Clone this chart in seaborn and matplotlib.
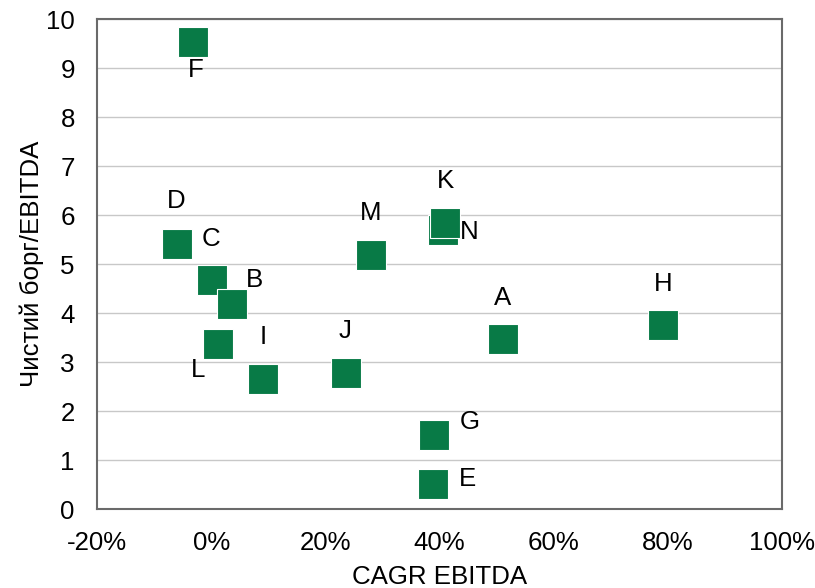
import matplotlib.pyplot as plt
import matplotlib.ticker as mtick
import seaborn as sns
import pandas as pd

# Values
names = ['F', 'D', 'C', 'B', 'L', 'I', 'J', 'M', 'N', 'K', 'A', 'H', 'G', 'E']
cagr = [-3.2, -6.0, 0.1, 3.7, 1.2, 9.1, 23.6, 28.0, 40.6, 41.0, 51.1, 79.2, 39.1, 38.8]
debt_ebitda = [9.54, 5.42, 4.67, 4.19, 3.38, 2.65, 2.78, 5.20, 5.71, 5.85, 3.47, 3.76, 1.51, 0.52]

# label offsets from marker centre, in pixels
label_dx = [3, -1, -1, 22, -20, 0, -1, 0, 26, 0, 0, 0, 35, 35]
label_dy = [-28, 43, 41, 24, -26, 42, 42, 42, -2, 42, 41, 41, 13, 5]

df = pd.DataFrame({'name': names, 'cagr': cagr, 'ratio': debt_ebitda})

green = '#087A46'
grey = '#6A6A6A'
fs = 18.6

sns.set_style('white')
plt.rcParams['font.family'] = ['Liberation Sans', 'DejaVu Sans']
plt.rcParams['text.color'] = 'black'
plt.rcParams['axes.labelcolor'] = 'black'

fig, ax = plt.subplots(figsize=(8.15, 5.88), dpi=100)
fig.subplots_adjust(left=0.119, right=0.9595, top=0.967, bottom=0.134)

sns.scatterplot(data=df, x='cagr', y='ratio', marker='s', s=470, color=green,
                edgecolor='white', linewidth=0.8, ax=ax, zorder=3, legend=False)

for n, x, y, dx, dy in zip(names, cagr, debt_ebitda, label_dx, label_dy):
  ax.annotate(n, (x, y), xytext=(dx, dy), textcoords='offset pixels',
              ha='center', va='center', fontsize=fs, color='black')

ax.set_xlim(-20, 100)
ax.set_ylim(0, 10)
ax.set_xticks(range(-20, 101, 20))
ax.set_yticks(range(0, 11))
ax.xaxis.set_major_formatter(mtick.FuncFormatter(lambda v, p: f'{v:.0f}%'))

ax.grid(axis='y', color='#C8C8C8', linewidth=1.0, zorder=0)
ax.set_axisbelow(True)
for sp in ax.spines.values():
  sp.set_color(grey)
  sp.set_linewidth(1.5)
ax.tick_params(direction='in', length=5, width=1, color=grey, labelsize=fs,
               labelcolor='black', pad=16)

ax.set_xlabel('CAGR EBITDA', fontsize=fs)
ax.set_ylabel('Чистий борг/EBITDA', fontsize=fs)
ax.xaxis.set_label_coords(0.5, -0.113)
ax.yaxis.set_label_coords(-0.078, 0.5)

fig.savefig('out.png', dpi=100)
